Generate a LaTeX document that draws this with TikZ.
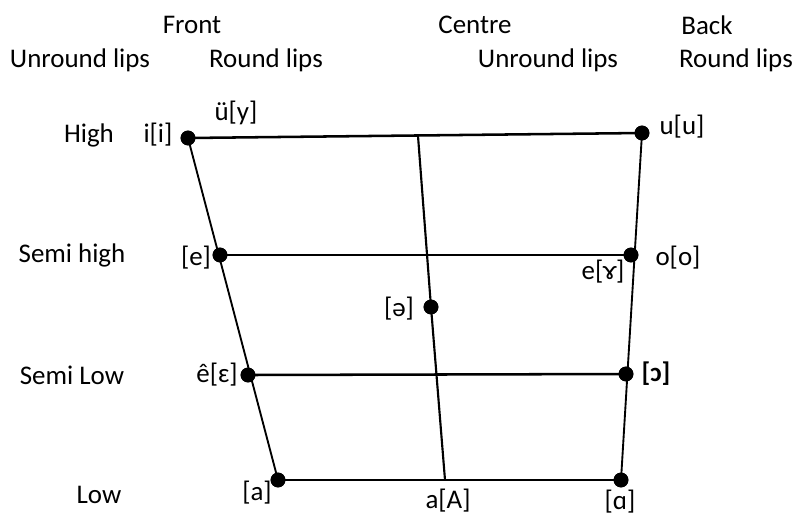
\documentclass[tikz,border=0pt]{standalone}
\usepackage{fontspec}
\setmainfont{Carlito}
\begin{document}
\begin{tikzpicture}[x=0.75pt,y=-0.75pt,
  lbl/.style={inner sep=0pt,font=\fontsize{20.2}{23}\selectfont},
  dot/.style={circle,fill=black,inner sep=0pt,minimum size=11pt},
  ln/.style={line width=1.9pt}]
\useasboundingbox (0,0) rectangle (795,515);
% dots
\node[dot] (i) at (188,138) {};
\node[dot] (u) at (642,133) {};
\node[dot] (e) at (220,255) {};
\node[dot] (o) at (631,255) {};
\node[dot] (schwa) at (431,307) {};
\node[dot] (eps) at (248,375) {};
\node[dot] (oo) at (626,374) {};
\node[dot] (a) at (278,480) {};
\node[dot] (aa) at (621,480) {};
\coordinate (ctop) at (418,136);
\coordinate (cbot) at (445,480);
% lines
\draw[line width=1.4pt] (i.center) -- (a.center);
\draw[line width=1.4pt] (u.center) -- (aa.center);
\draw[ln] (i.center) -- (u.center);
\draw[ln] (e.center) -- (o.center);
\draw[ln] (eps.center) -- (oo.center);
\draw[ln] (a.center) -- (aa.center);
\draw[line width=1.6pt] (ctop) -- (schwa.center) -- (cbot);
% redraw dots on top
\foreach \n in {i,u,e,o,schwa,eps,oo,a,aa} \fill (\n) circle (5.6pt);
% header labels
\node[lbl] (front) at (192,25) {Front};
\node[lbl] (centre) at (475,25) {Centre};
\node[lbl] (back) at (707,25) {Back};
\node[lbl] (ul1) at (80,60) {Unround lips};
\node[lbl] (rl1) at (266,60) {Round lips};
\node[lbl] (ul2) at (548,60) {Unround lips};
\node[lbl] (rl2) at (736,60) {Round lips};
% row labels
\node[lbl] (high) at (89,135) {High};
\node[lbl] (shigh) at (72,255) {Semi high};
\node[lbl] (slow) at (72,375) {Semi Low};
\node[lbl] (low) at (99,495) {Low};
% vowel labels
\node[lbl] at (158,135) {i[i]};
\node[lbl] at (236,113) {ü[y]};
\node[lbl] at (682,127) {u[u]};
\node[lbl] at (196,258) {[e]};
\node[lbl] at (678,258) {o[o]};
\node[lbl] at (603,272) {e[ɤ]};
\node[lbl] at (399,309) {[ə]};
\node[lbl] at (217,375) {ê[ɛ]};
\node[lbl] at (656,374) {\bfseries[ɔ]};
\node[lbl] at (257,493) {[a]};
\node[lbl] at (448,501) {a[A]};
\node[lbl] at (620,502) {[ɑ]};
\end{tikzpicture}
\end{document}
